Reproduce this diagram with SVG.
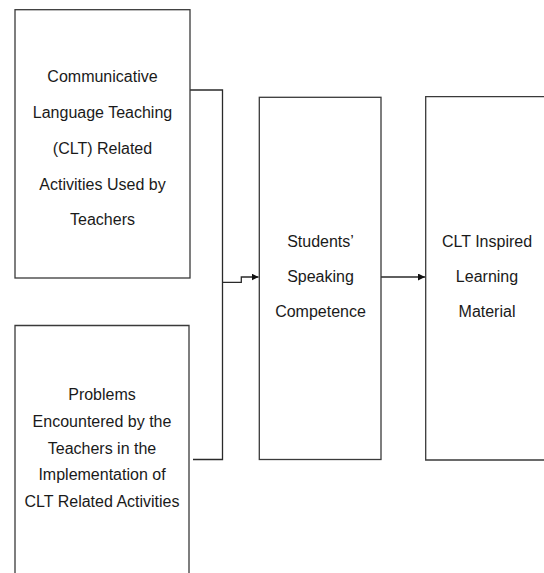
<svg xmlns="http://www.w3.org/2000/svg" width="544" height="573" viewBox="0 0 544 573">
  <style>
    .box { fill: #ffffff; stroke: #3a3a3a; stroke-width: 1.3; }
    .lbl { font-family: "Liberation Sans", Arial, sans-serif; font-size: 16px; fill: #1a1a1a; text-anchor: middle; }
    .wire { fill: none; stroke: #2a2a2a; stroke-width: 1.3; }
  </style>
  <defs>
    <marker id="arrow" viewBox="0 0 10 10" refX="10" refY="5" markerWidth="7" markerHeight="7" markerUnits="userSpaceOnUse" orient="auto">
      <path d="M0,0 L10,5 L0,10 Z" fill="#111111"/>
    </marker>
  </defs>
  <rect width="544" height="573" fill="#ffffff"/>

  <g id="connectors">
    <!-- bracket joining the two left boxes -->
    <polyline class="wire" points="190,90 222.5,90 222.5,459.5 193,459.5"/>
    <!-- bracket into Students' Speaking Competence -->
    <polyline class="wire" points="222.5,282.3 241.3,282.3 241.3,277 258.5,277" marker-end="url(#arrow)"/>
    <!-- Students' Speaking Competence into CLT Inspired Learning Material -->
    <line class="wire" x1="381" y1="277" x2="425" y2="277" marker-end="url(#arrow)"/>
  </g>

  <g id="node-clt-activities">
    <rect class="box" x="15" y="9.7" width="175" height="268.3"/>
    <text class="lbl" x="102.5" y="82">Communicative</text>
    <text class="lbl" x="102.5" y="118">Language Teaching</text>
    <text class="lbl" x="102.5" y="154">(CLT) Related</text>
    <text class="lbl" x="102.5" y="189.5">Activities Used by</text>
    <text class="lbl" x="102.5" y="225">Teachers</text>
  </g>

  <g id="node-problems">
    <path class="box" d="M15,575 L15,325.5 L189,325.5 L189,575"/>
    <text class="lbl" x="102" y="400">Problems</text>
    <text class="lbl" x="102" y="427">Encountered by the</text>
    <text class="lbl" x="102" y="453.5">Teachers in the</text>
    <text class="lbl" x="102" y="480">Implementation of</text>
    <text class="lbl" x="102" y="507">CLT Related Activities</text>
  </g>

  <g id="node-speaking">
    <rect class="box" x="259.3" y="97.3" width="121.7" height="362.2"/>
    <text class="lbl" x="320.5" y="246.7">Students’</text>
    <text class="lbl" x="320.5" y="281.7">Speaking</text>
    <text class="lbl" x="320.5" y="317">Competence</text>
  </g>

  <g id="node-material">
    <path class="box" d="M546,96.7 L425.7,96.7 L425.7,460 L546,460"/>
    <text class="lbl" x="487" y="246.7">CLT Inspired</text>
    <text class="lbl" x="487" y="281.7">Learning</text>
    <text class="lbl" x="487" y="317">Material</text>
  </g>
</svg>
